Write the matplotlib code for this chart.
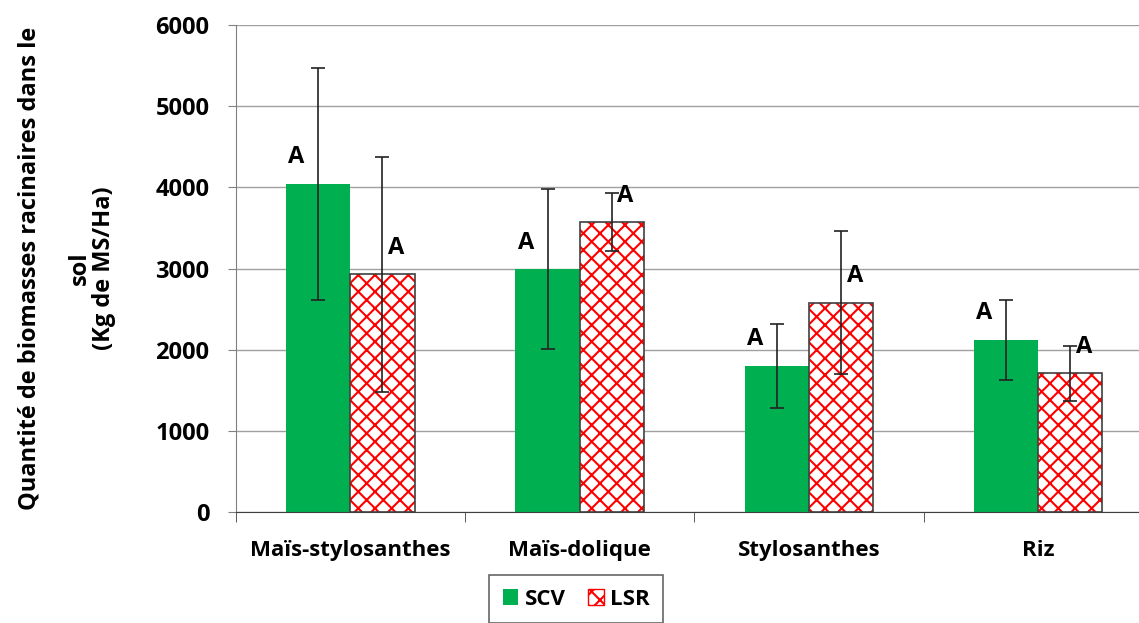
import numpy as np
import matplotlib.pyplot as plt
import matplotlib as mpl
from matplotlib.patches import Patch

plt.rcParams['font.family'] = ['Open Sans', 'DejaVu Sans']
plt.rcParams['font.weight'] = 'bold'
mpl.rcParams['hatch.linewidth'] = 1.5

categories = ["Maïs-stylosanthes", "Maïs-dolique", "Stylosanthes", "Riz"]
scv = [4040, 2990, 1800, 2120]
scv_err = [1425, 985, 515, 490]
lsr = [2930, 3570, 2580, 1710]
lsr_err = [1445, 355, 880, 340]
scv_letters = ["A", "A", "A", "A"]
lsr_letters = ["A", "A", "A", "A"]

fig = plt.figure(figsize=(11.39, 6.23), dpi=100)
ax = fig.add_axes([0.207, 0.178, 0.793, 0.782])

x = np.arange(len(categories))
w = 0.28
ax.bar(x - w / 2, scv, w, color='#00b050', zorder=2, label='SCV')
ax.bar(x + w / 2, lsr, w, color='white', edgecolor='#ff0000', hatch='xx',
       linewidth=0, zorder=2, label='LSR')
ax.bar(x + w / 2, lsr, w, color='none', edgecolor='#404040', linewidth=1.2, zorder=3)
ax.errorbar(x - w / 2, scv, yerr=scv_err, fmt='none', ecolor='#222222',
            elinewidth=1.2, capsize=5, capthick=1.2, zorder=4)
ax.errorbar(x + w / 2, lsr, yerr=lsr_err, fmt='none', ecolor='#222222',
            elinewidth=1.2, capsize=5, capthick=1.2, zorder=4)

for i in range(len(categories)):
    ax.text(x[i] - w / 2 - 0.095, scv[i] + 180, scv_letters[i], ha='center',
            va='bottom', fontsize=17, fontweight='bold')
    ax.text(x[i] + w / 2 + 0.06, lsr[i] + 180, lsr_letters[i], ha='center',
            va='bottom', fontsize=17, fontweight='bold')

ax.set_ylim(0, 6000)
ax.set_xlim(-0.5, 3.44)
ax.set_yticks(range(0, 6001, 1000))
ax.yaxis.grid(True, color='#a0a0a0', linewidth=1, zorder=0)
ax.set_axisbelow(True)
ax.set_xticks(x)
ax.set_xticklabels(categories, fontsize=16, fontweight='bold')
ax.set_xticks(np.arange(-0.5, 3.5, 1), minor=True)
ax.tick_params(axis='x', which='major', length=0, pad=20)
ax.tick_params(axis='x', which='minor', length=7, color='#404040')
ax.tick_params(axis='y', labelsize=17, length=6, color='#808080', pad=13)
for lab in ax.get_yticklabels():
    lab.set_fontweight('bold')
ax.spines['top'].set_visible(False)
ax.spines['right'].set_visible(False)
ax.spines['left'].set_color('#808080')
ax.spines['bottom'].set_color('#404040')

ax.set_ylabel("Quantité de biomasses racinaires dans le\n\nsol\n(Kg de MS/Ha)",
              fontsize=17, fontweight='bold', labelpad=28, linespacing=1.05)

handles = [Patch(facecolor='#00b050', label='SCV'),
           Patch(facecolor='white', edgecolor='#ff0000', hatch='xx', label='LSR')]
leg = fig.legend(handles=handles, loc='lower center', bbox_to_anchor=(0.506, -0.018),
                 ncol=2, fontsize=16, frameon=True, fancybox=False,
                 handlelength=0.7, handleheight=0.7, handletextpad=0.3,
                 columnspacing=1.0, borderpad=0.6)
leg.get_frame().set_edgecolor('#404040')
leg.get_frame().set_linewidth(1.2)
for t in leg.get_texts():
    t.set_fontweight('bold')

fig.savefig("out.png", dpi=100)
